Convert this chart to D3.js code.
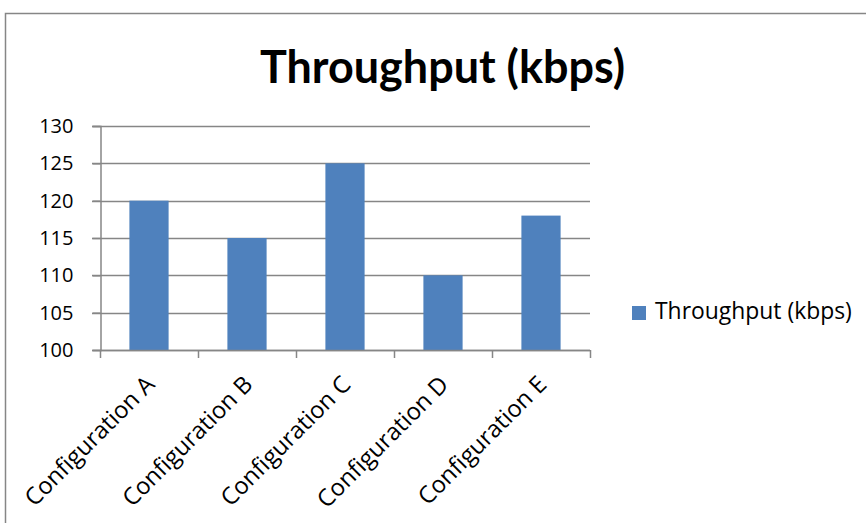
<!DOCTYPE html>
<html><head><meta charset="utf-8">
<script src="https://cdn.jsdelivr.net/npm/d3@7"></script>
<style>html,body{margin:0;padding:0;background:#fff;}svg{display:block;font-family:"Open Sans",sans-serif;}</style>
</head><body>
<script>
const categories = ["Configuration A","Configuration B","Configuration C","Configuration D","Configuration E"];
const throughput = [120,115,125,110,118];
const yTicks = [100,105,110,115,120,125,130];
const seriesName = "Throughput (kbps)";
const title = "Throughput (kbps)";

const W = 866, H = 523;
const svg = d3.select("body").append("svg").attr("width", W).attr("height", H);

svg.append("rect").attr("x", 5.5).attr("y", 13.5).attr("width", W + 10).attr("height", H + 10)
  .attr("fill", "#fff").attr("stroke", "#868686").attr("stroke-width", 1.5);

const x = d3.scaleBand().domain(categories).range([100, 590]).paddingInner(0.6).paddingOuter(0.3);
const y = d3.scaleLinear().domain([100, 130]).range([350, 126]);

// fit a text element's font size to a target width
function fitWidth(sel, target) {
  sel.each(function () {
    const base = 20;
    this.setAttribute("font-size", base);
    const len = this.getComputedTextLength();
    this.setAttribute("font-size", (base * target / len).toFixed(2));
  });
}

// gridlines
svg.append("g").selectAll("line").data(yTicks).join("line")
  .attr("x1", 92).attr("x2", 590).attr("y1", d => Math.round(y(d)) + 0.5).attr("y2", d => Math.round(y(d)) + 0.5)
  .attr("stroke", "#868686").attr("stroke-width", 1.5);

// bars
svg.append("g").selectAll("rect").data(categories).join("rect")
  .attr("x", d => x(d)).attr("width", x.bandwidth())
  .attr("y", (d, i) => y(throughput[i])).attr("height", (d, i) => y(100) - y(throughput[i]))
  .attr("fill", "#4F81BD");

// y axis
const yAxis = svg.append("g").attr("transform", "translate(100.5,0)")
  .call(d3.axisLeft(y).tickValues(yTicks).tickSize(8).tickPadding(19));
yAxis.select(".domain").attr("stroke", "#868686").attr("stroke-width", 1.5);
yAxis.selectAll(".tick line").attr("stroke", "#868686").attr("stroke-width", 1.5);
yAxis.selectAll(".tick text").attr("font-size", 20).attr("font-family", "Open Sans").attr("fill", "#000");

// x axis
const xTickPos = d3.range(categories.length + 1).map(i => 100 + i * (490 / categories.length));
const xa = svg.append("g");
xa.append("line").attr("x1", 100).attr("x2", 590).attr("y1", 350.5).attr("y2", 350.5)
  .attr("stroke", "#868686").attr("stroke-width", 1.5);
xa.selectAll("line.t").data(xTickPos).join("line").attr("class", "t")
  .attr("x1", d => Math.round(d) + 0.5).attr("x2", d => Math.round(d) + 0.5).attr("y1", 350).attr("y2", 358)
  .attr("stroke", "#868686").attr("stroke-width", 1.5);
const xl = xa.selectAll("text").data(categories).join("text")
  .attr("transform", d => `translate(${x(d) + x.bandwidth() / 2 + 7},${386}) rotate(-45)`)
  .attr("text-anchor", "end").attr("font-family", "Open Sans").attr("fill", "#000")
  .text(d => d);
fitWidth(xl.filter((d, i) => i === 0), 172);
xl.attr("font-size", xl.filter((d, i) => i === 0).attr("font-size"));

// title
const t = svg.append("text").attr("x", 442.5).attr("y", 83).attr("text-anchor", "middle")
  .attr("font-weight", "bold").attr("font-family", "Lato").attr("fill", "#000")
  .text(title);
fitWidth(t, 365);

// legend
const lg = svg.append("g");
lg.append("rect").attr("x", 632).attr("y", 306).attr("width", 14).attr("height", 14).attr("fill", "#4F81BD");
const lt = lg.append("text").attr("x", 655).attr("y", 319).attr("font-family", "Open Sans").attr("fill", "#000")
  .text(seriesName);
fitWidth(lt, 197);
</script>
</body></html>
